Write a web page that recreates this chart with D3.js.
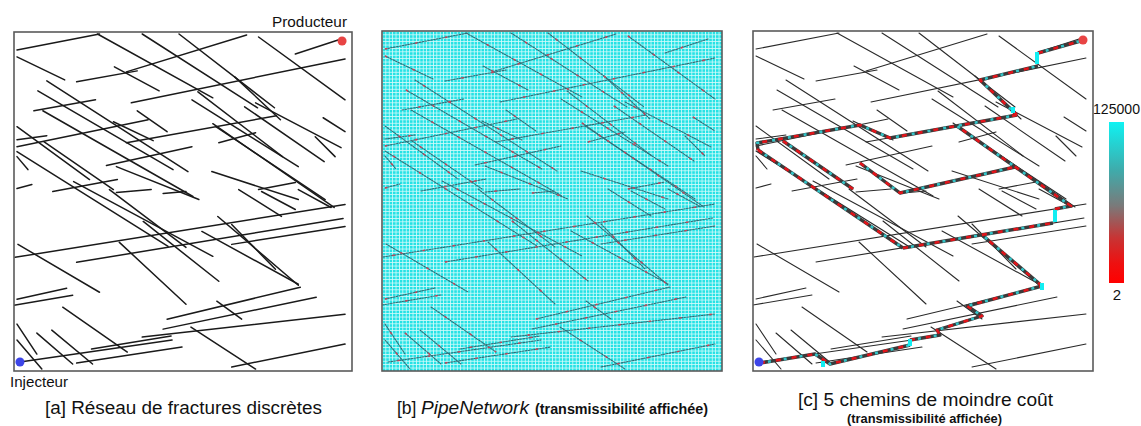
<!DOCTYPE html>
<html><head><meta charset="utf-8">
<script src="https://cdn.jsdelivr.net/npm/d3@7"></script>
<style>
body{margin:0;background:#fff;overflow:hidden}
text{font-family:"Liberation Sans",Arial,sans-serif;fill:#111}
</style>
</head><body>
<svg id="chart" width="1141" height="426"></svg>
<script>
// ---- data (panel-local coordinates, 0..340, y downward) ----
const fractures = [
 [3,18,86,2],[84,2,200,66],[129,2,245,76],[166,2,262,76],[246,5,333,68],
 [113,40,234,3],[63,50,124,39],[101,35,146,59],[3,25,51,48],[118,71,333,27],
 [283,22,326,8],[33,49,175,140],[24,59,160,138],[29,79,180,165],[20,79,82,68],
 [124,79,154,100],[3,115,135,88],[3,108,33,104],[113,111,264,84],[93,134,179,115],
 [206,111,243,101],[179,68,286,135],[203,95,313,168],[243,71,329,116],[311,86,333,100],
 [303,105,323,125],[3,95,76,148],[3,125,14,138],[3,157,18,153],[39,160,104,148],
 [96,158,173,216],[103,161,138,158],[150,162,173,160],[226,158,269,185],[249,160,283,178],
 [286,158,319,176],[246,158,283,151],[199,140,286,168],[103,135,186,168],[1,226,333,173],
 [63,231,331,187],[219,213,333,195],[4,213,86,261],[106,211,173,273],[130,190,206,250],
 [189,200,286,253],[219,193,263,238],[205,185,286,254],[3,268,53,257],[0,274,59,264],
 [49,276,114,321],[3,293,23,323],[23,302,59,333],[38,299,79,333],[3,309,28,338],
 [78,318,158,305],[154,288,288,256],[150,298,304,266],[129,306,333,283],[6,331,159,309],
 [63,332,169,316],[178,296,243,338],[219,336,333,313],[204,270,229,288],[232,75,312,130],
 [185,60,270,125],[60,150,200,225],[3,120,155,215],[200,92,322,176],[222,45,268,88],
 [100,90,140,109],[30,110,100,158]
];
// least-cost paths (polylines, panel-local coordinates)
const leastCostPaths = [
 [[7,332],[62,323],[77,333],[157,314]],
 [[157,309],[187,304],[184,299],[229,285],[214,275],[289,255]],
 [[289,255],[228,203]],
 [[150,217],[300,192]],
 [[302,178],[318,175],[204,95]],
 [[264,84],[137,107],[107,94],[4,112],[5,119]],
 [[264,84],[227,49],[285,35]],
 [[285,22],[331,9]],
 [[5,119],[150,217]],
 [[30,110],[100,158]],
 [[107,132],[147,162],[262,136]]
];
// high-transmissibility connectors [x, y1, y2]
const connectors = [[284,21,33],[302,179,191],[289,252,259],[157,308,315],[260,76,82],[70,330,336]];
const producer = [330,9];
const injector = [6,331];
const cbLabels = ["125000","2"];
const cbStops = [[0,"#0ff2f2"],[0.3,"#3fabab"],[0.52,"#7a7a7a"],[0.72,"#c83434"],[0.88,"#ee1010"],[1,"#ff0000"]];
const titleA = "[a] Réseau de fractures discrètes";
const titleB = ["[b]","PipeNetwork","(transmissibilité affichée)"];
const titleC = "[c] 5 chemins de moindre coût";
const subC = "(transmissibilité affichée)";

// ---- drawing ----
const svg = d3.select("#chart");
const defs = svg.append("defs");
const panels = [
 {id:"a", x0:14, y0:32, w:338, h:339},
 {id:"b", x0:382, y0:31, w:340, h:340},
 {id:"c", x0:753, y0:31, w:340, h:340}
];
panels.forEach(p=>{
  p.sx = d3.scaleLinear().domain([0,340]).range([p.x0, p.x0+p.w]);
  p.sy = d3.scaleLinear().domain([0,340]).range([p.y0, p.y0+p.h]);
  defs.append("clipPath").attr("id","clip"+p.id).append("rect")
    .attr("x",p.x0).attr("y",p.y0).attr("width",p.w).attr("height",p.h);
});
const [A,B,C] = panels;

// grid pattern for panel b
const pat = defs.append("pattern").attr("id","grid").attr("patternUnits","userSpaceOnUse")
  .attr("x",B.x0).attr("y",B.y0).attr("width",3.4).attr("height",3.4);
pat.append("rect").attr("width",3.4).attr("height",3.4).attr("fill","#d4fbfb");
pat.append("rect").attr("x",0.8).attr("y",0.8).attr("width",2.6).attr("height",2.6).attr("fill","#26e2e5");

function drawFractures(p, g, stroke, width, dash){
  g.selectAll("line.f").data(fractures).join("line").attr("class","f")
   .attr("x1",d=>p.sx(d[0])).attr("y1",d=>p.sy(d[1]))
   .attr("x2",d=>p.sx(d[2])).attr("y2",d=>p.sy(d[3]))
   .attr("stroke",stroke).attr("stroke-width",width)
   .attr("stroke-dasharray",dash||null).attr("stroke-linecap","round");
}

// Panel a
const ga = svg.append("g").attr("clip-path","url(#clipa)");
ga.append("rect").attr("x",A.x0).attr("y",A.y0).attr("width",A.w).attr("height",A.h).attr("fill","#fff");
drawFractures(A, ga, "#1a1a1a", 1.5);

// Panel b
const gb = svg.append("g").attr("clip-path","url(#clipb)");
gb.append("rect").attr("x",B.x0).attr("y",B.y0).attr("width",B.w).attr("height",B.h).attr("fill","url(#grid)");
drawFractures(B, gb.append("g"), "#2f6d76", 1.1, "1.7,1.2");
gb.append("g").selectAll("line").data(fractures).join("line")
  .attr("x1",d=>B.sx(d[0])).attr("y1",d=>B.sy(d[1]))
  .attr("x2",d=>B.sx(d[2])).attr("y2",d=>B.sy(d[3]))
  .attr("stroke","#c0485c").attr("stroke-width",1.6)
  .attr("stroke-dasharray","2.5,28").attr("stroke-dashoffset",(d,i)=>(i*7)%28);

// Panel c
const gc = svg.append("g").attr("clip-path","url(#clipc)");
gc.append("rect").attr("x",C.x0).attr("y",C.y0).attr("width",C.w).attr("height",C.h).attr("fill","#fff");
drawFractures(C, gc, "#2a2a2a", 1.1);
const line = d3.line().x(d=>C.sx(d[0])).y(d=>C.sy(d[1]));
const pg = gc.append("g").attr("fill","none").attr("stroke-linejoin","round");
pg.selectAll("path.base").data(leastCostPaths).join("path").attr("class","base")
  .attr("d",line).attr("stroke","#3a3a3a").attr("stroke-width",3.4);
pg.selectAll("path.red").data(leastCostPaths).join("path").attr("class","red")
  .attr("d",line).attr("stroke","#e3141a").attr("stroke-width",2.6).attr("stroke-dasharray","5,11");
pg.selectAll("path.cy").data(leastCostPaths).join("path").attr("class","cy")
  .attr("d",line).attr("stroke","#33c4c8").attr("stroke-width",2.6)
  .attr("stroke-dasharray","3,13").attr("stroke-dashoffset",8);
gc.selectAll("line.conn").data(connectors).join("line").attr("class","conn")
  .attr("x1",d=>C.sx(d[0])).attr("x2",d=>C.sx(d[0]))
  .attr("y1",d=>C.sy(d[1])).attr("y2",d=>C.sy(d[2]))
  .attr("stroke","#12eef2").attr("stroke-width",4);

// wells
[A,C].forEach(p=>{
  svg.append("circle").attr("cx",p.sx(producer[0])).attr("cy",p.sy(producer[1])).attr("r",4.5).attr("fill","#e84444");
  svg.append("circle").attr("cx",p.sx(injector[0])).attr("cy",p.sy(injector[1])).attr("r",4.5).attr("fill","#3d45e8");
});

// frames
panels.forEach(p=>{
  svg.append("rect").attr("x",p.x0).attr("y",p.y0).attr("width",p.w).attr("height",p.h)
    .attr("fill","none").attr("stroke","#5a5a5a").attr("stroke-width",1.6);
});

// labels
function txt(x,y,s,size,len,opts){
  const t = svg.append("text").attr("x",x).attr("y",y).attr("font-size",size).text(s);
  if(len) t.attr("textLength",len).attr("lengthAdjust","spacingAndGlyphs");
  if(opts) Object.entries(opts).forEach(([k,v])=>t.attr(k,v));
  return t;
}
txt(272,27,"Producteur",14,75);
txt(10,387,"Injecteur",14,58);
txt(45,414,titleA,17.5,277);
txt(397,414,titleB[0],17.5,null);
txt(421,414,titleB[1],17.5,108,{"font-style":"italic"});
txt(535,414,titleB[2],14,173,{"font-weight":"bold"});
txt(798,406,titleC,17.5,255);
txt(847,423,subC,12,155,{"font-weight":"bold"});

// colorbar
const grad = defs.append("linearGradient").attr("id","cbar").attr("x1",0).attr("y1",0).attr("x2",0).attr("y2",1);
grad.selectAll("stop").data(cbStops).join("stop").attr("offset",d=>d[0]).attr("stop-color",d=>d[1]);
const cbY = d3.scaleLinear().domain([1,0]).range([122,283]);
svg.append("rect").attr("x",1109).attr("y",cbY(1)).attr("width",15).attr("height",cbY(0)-cbY(1)).attr("fill","url(#cbar)");
txt(1093,cbY(1)-8,cbLabels[0],14.5,47);
svg.append("text").attr("x",1117).attr("y",cbY(0)+17).attr("text-anchor","middle").attr("font-size",15).text(cbLabels[1]);
</script>
</body></html>
